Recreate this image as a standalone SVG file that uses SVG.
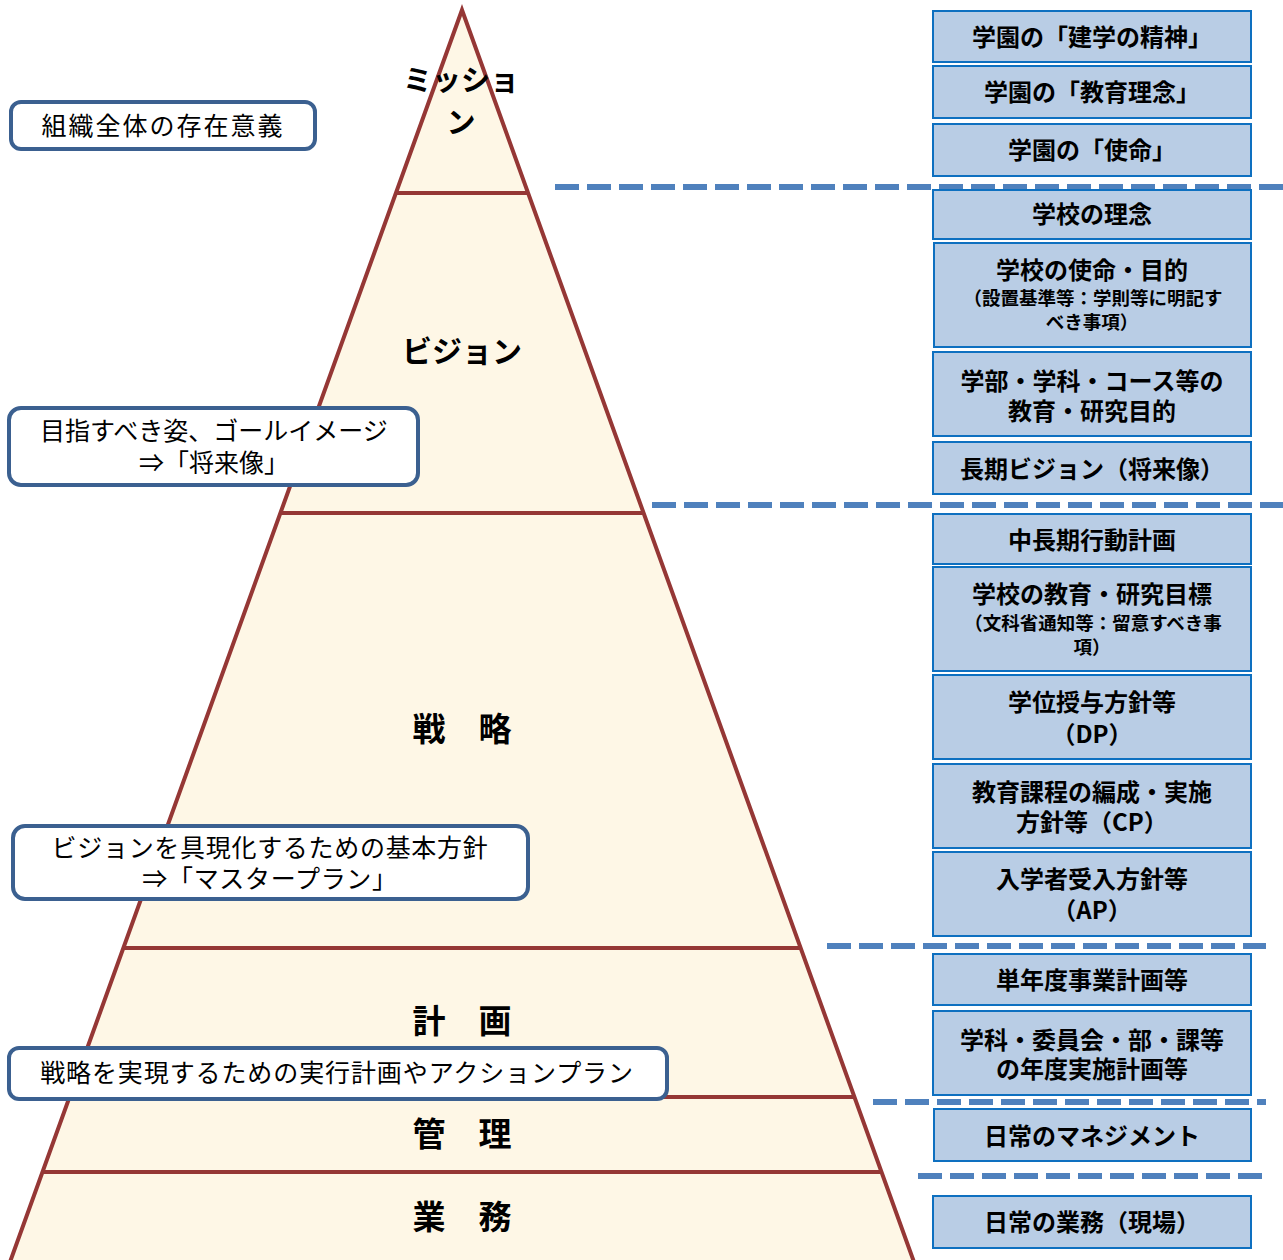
<svg xmlns="http://www.w3.org/2000/svg" width="1283" height="1260" viewBox="0 0 1283 1260">
<style>
.pyr{fill:#FEF7E6;stroke:#953735;stroke-width:4;stroke-linejoin:miter}
.div{stroke:#953735;stroke-width:4}
.pl{font-family:"Noto Sans CJK JP","Noto Sans CJK SC",sans-serif;font-weight:bold;fill:#000;text-anchor:middle;dominant-baseline:central}
.rb{fill:#B9CDE5;stroke:#0E70C0;stroke-width:2}
.rt{font-family:"Noto Sans CJK JP","Noto Sans CJK SC",sans-serif;font-weight:bold;font-size:24px;fill:#000;text-anchor:middle;dominant-baseline:central}
.rs{font-size:18.5px}
.lb{fill:#fff;stroke:#3B6090;stroke-width:4}
.lt{font-family:"Noto Sans CJK JP","Noto Sans CJK SC",sans-serif;font-size:25px;fill:#000;text-anchor:middle;dominant-baseline:central}
.dash{stroke:#4F81BD;stroke-width:6;stroke-dasharray:24 8;fill:none}
</style>
<rect width="1283" height="1260" fill="#fff"/>
<g id="pyramid">
<polygon class="pyr" points="462,10 914,1262 10,1262"/>
<line class="div" x1="396" y1="193" x2="528" y2="193"/>
<line class="div" x1="280" y1="513" x2="644" y2="513"/>
<line class="div" x1="123" y1="948" x2="801" y2="948"/>
<line class="div" x1="69" y1="1097" x2="855" y2="1097"/>
<line class="div" x1="42" y1="1172" x2="882" y2="1172"/>
</g>
<g id="pyramid-labels">
<text class="pl" x="461" y="78" font-size="29">ミッショ</text>
<text class="pl" x="461" y="120" font-size="29">ン</text>
<text class="pl" x="462" y="349" font-size="30">ビジョン</text>
<text class="pl" x="462" y="727" font-size="33">戦　略</text>
<text class="pl" x="462" y="1019" font-size="33">計　画</text>
<text class="pl" x="462" y="1132" font-size="33">管　理</text>
<text class="pl" x="462" y="1215" font-size="33">業　務</text>
</g>
<g id="connectors">
<line class="dash" x1="555" y1="187" x2="1283" y2="187"/>
<line class="dash" x1="652" y1="505" x2="1283" y2="505"/>
<line class="dash" x1="827" y1="946" x2="1266" y2="946"/>
<line class="dash" x1="873" y1="1102" x2="1266" y2="1102"/>
<line class="dash" x1="918" y1="1176" x2="1262" y2="1176"/>
</g>
<g id="r1"><rect class="rb" x="933" y="11" width="318" height="51"/><text class="rt" x="1092" y="35">学園の「建学の精神」</text></g>
<g id="r2"><rect class="rb" x="933" y="66" width="318" height="52"/><text class="rt" x="1092" y="90">学園の「教育理念」</text></g>
<g id="r3"><rect class="rb" x="933" y="124" width="318" height="52"/><text class="rt" x="1092" y="148">学園の「使命」</text></g>
<g id="r4"><rect class="rb" x="933" y="190" width="318" height="49"/><text class="rt" x="1092" y="212">学校の理念</text></g>
<g id="r5"><rect class="rb" x="934" y="243" width="317" height="104"/><text class="rt" x="1092" y="268">学校の使命・目的</text><text class="rt rs" x="1093" y="297">（設置基準等：学則等に明記す</text><text class="rt rs" x="1092" y="321">べき事項）</text></g>
<g id="r6"><rect class="rb" x="933" y="352" width="318" height="84"/><text class="rt" x="1092" y="379">学部・学科・コース等の</text><text class="rt" x="1092" y="409">教育・研究目的</text></g>
<g id="r7"><rect class="rb" x="933" y="442" width="318" height="52"/><text class="rt" x="1092" y="467">長期ビジョン（将来像）</text></g>
<g id="r8"><rect class="rb" x="933" y="514" width="318" height="50"/><text class="rt" x="1092" y="538">中長期行動計画</text></g>
<g id="r9"><rect class="rb" x="933" y="567" width="318" height="104"/><text class="rt" x="1092" y="592">学校の教育・研究目標</text><text class="rt rs" x="1093" y="622">（文科省通知等：留意すべき事</text><text class="rt rs" x="1092" y="646">項）</text></g>
<g id="r10"><rect class="rb" x="933" y="675" width="318" height="84"/><text class="rt" x="1092" y="700">学位授与方針等</text><text class="rt" x="1092" y="732">（DP）</text></g>
<g id="r11"><rect class="rb" x="933" y="764" width="318" height="84"/><text class="rt" x="1092" y="790">教育課程の編成・実施</text><text class="rt" x="1092" y="820">方針等（CP）</text></g>
<g id="r12"><rect class="rb" x="933" y="852" width="318" height="84"/><text class="rt" x="1092" y="877">入学者受入方針等</text><text class="rt" x="1092" y="908">（AP）</text></g>
<g id="r13"><rect class="rb" x="933" y="954" width="318" height="51"/><text class="rt" x="1092" y="978">単年度事業計画等</text></g>
<g id="r14"><rect class="rb" x="933" y="1011" width="318" height="84"/><text class="rt" x="1092" y="1038">学科・委員会・部・課等</text><text class="rt" x="1092" y="1067">の年度実施計画等</text></g>
<g id="r15"><rect class="rb" x="934" y="1109" width="317" height="52"/><text class="rt" x="1092" y="1134">日常のマネジメント</text></g>
<g id="r16"><rect class="rb" x="933" y="1196" width="318" height="52"/><text class="rt" x="1092" y="1220">日常の業務（現場）</text></g>
<g id="l1"><rect class="lb" x="11" y="102" width="304" height="47" rx="10"/><text class="lt" x="163" y="124" letter-spacing="2">組織全体の存在意義</text></g>
<g id="l2"><rect class="lb" x="9" y="408" width="409" height="77" rx="12"/><text class="lt" x="214" y="429">目指すべき姿、ゴールイメージ</text><text class="lt" x="214" y="461">⇒「将来像」</text></g>
<g id="l3"><rect class="lb" x="13" y="826" width="515" height="73" rx="12"/><text class="lt" x="270" y="846" letter-spacing="0.7">ビジョンを具現化するための基本方針</text><text class="lt" x="270" y="877" letter-spacing="0.7">⇒「マスタープラン」</text></g>
<g id="l4"><rect class="lb" x="9" y="1048" width="658" height="51" rx="10"/><text class="lt" x="337" y="1071" letter-spacing="0.9">戦略を実現するための実行計画やアクションプラン</text></g>
</svg>
